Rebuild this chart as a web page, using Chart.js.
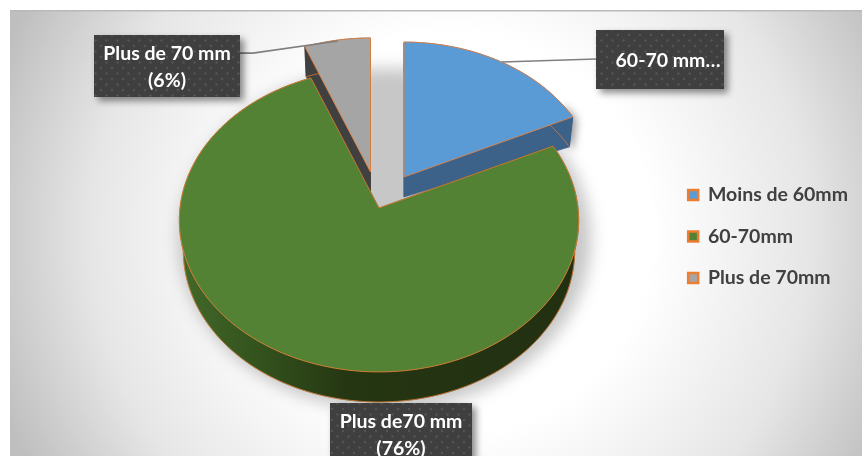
<!DOCTYPE html>
<html>
<head>
<meta charset="utf-8">
<script src="https://cdn.jsdelivr.net/npm/chart.js@4/dist/chart.umd.js"></script>
<style>
  html, body { margin: 0; padding: 0; background: #fff; }
  #wrap { width: 862px; height: 456px; overflow: hidden; }
</style>
</head>
<body>
<div id="wrap"><canvas id="pie" width="862" height="456"></canvas></div>
<script>
// chart data
const sliceLabels = ['Moins de 60mm', '60-70mm', 'Plus de 70mm'];
const sliceValues = [18, 76, 6];
const calloutTexts = [['60-70 mm…'], ['Plus de70 mm', '(76%)'], ['Plus de 70 mm', '(6%)']];

// look of each slice
const topColors = ['#5b9bd5', '#548235', '#a5a5a5'];
const edgeColor = '#ed7d31';

// how each slice sits on the tilted disc: apex position and half axes
const sliceViews = [
    { x: 404, y: 177, rx: 193, ry: 146 },
    { x: 379, y: 208, rx: 199, ry: 150.5 },
    { x: 370.5, y: 172, rx: 192, ry: 145 }
];
const PERSPECTIVE = 0.082;

// callout boxes, with the leader line back to the slice
const calloutBoxes = [
    { x: 596, y: 30, w: 128, h: 59, textX: 668, lineY: [61], line: [[596, 59], [502, 62]] },
    { x: 330, y: 403, w: 142, h: 62, textX: 401, lineY: [422, 449], line: null },
    { x: 94, y: 35, w: 146, h: 62, textX: 167, lineY: [54, 81], line: [[240, 53], [253, 53], [338, 41]] }
];

// project a point of the unit disc to the screen, r = 1 is the rim
function project(view, r, angle, lowered) {
    const u = r * Math.cos(angle), v = r * Math.sin(angle);
    const w = 1 - PERSPECTIVE * v;
    const shrink = lowered ? 1 - 0.02 * r : 1;
    const drop = lowered ? 20 + 10 * r : 0;
    return { x: view.x + view.rx * u * shrink / w, y: view.y + view.ry * v / w + drop };
}

function rimPoints(view, arc, lowered) {
    const pts = [];
    const steps = Math.max(8, Math.round((arc.endAngle - arc.startAngle) * 40));
    for (let i = 0; i <= steps; i++) {
        const a = arc.startAngle + (arc.endAngle - arc.startAngle) * i / steps;
        pts.push(project(view, 1, a, lowered));
    }
    return pts;
}

function tracePoly(ctx, pts) {
    ctx.beginPath();
    pts.forEach((p, i) => i ? ctx.lineTo(p.x, p.y) : ctx.moveTo(p.x, p.y));
    ctx.closePath();
}

function wallFill(ctx, index) {
    if (index === 0) return '#3c6289';
    if (index === 2) return '#404040';
    const g = ctx.createLinearGradient(180, 0, 580, 0);
    g.addColorStop(0, '#42692a');
    g.addColorStop(0.2, '#33521d');
    g.addColorStop(0.42, '#253612');
    g.addColorStop(1, '#223012');
    return g;
}

function drawWalls(ctx, arc, index) {
    const view = sliceViews[index];
    const top = rimPoints(view, arc, false);
    const low = rimPoints(view, arc, true);
    const apexTop = project(view, 0, 0, false);
    const apexLow = project(view, 0, 0, true);
    ctx.fillStyle = wallFill(ctx, index);
    ctx.strokeStyle = ctx.fillStyle;
    ctx.lineWidth = 0.6;
    // the two cut faces
    [[top[0], low[0]], [top[top.length - 1], low[low.length - 1]]].forEach(pair => {
        tracePoly(ctx, [apexTop, pair[0], pair[1], apexLow]);
        ctx.fill();
        ctx.stroke();
    });
    // the curved face
    tracePoly(ctx, top.concat(low.slice().reverse()));
    ctx.fill();
    ctx.stroke();
    // thin edge along the underside
    ctx.strokeStyle = edgeColor;
    ctx.lineWidth = 0.7;
    ctx.beginPath();
    low.forEach((p, i) => i ? ctx.lineTo(p.x, p.y) : ctx.moveTo(p.x, p.y));
    ctx.stroke();
}

function drawTop(ctx, arc, index) {
    const view = sliceViews[index];
    tracePoly(ctx, [project(view, 0, 0, false)].concat(rimPoints(view, arc, false)));
    ctx.fillStyle = topColors[index];
    ctx.fill();
    ctx.strokeStyle = edgeColor;
    ctx.lineWidth = 0.8;
    ctx.stroke();
}

function dotPattern(ctx) {
    const tile = document.createElement('canvas');
    tile.width = tile.height = 11;
    const t = tile.getContext('2d');
    t.fillStyle = '#3f3f3f';
    t.fillRect(0, 0, 11, 11);
    t.fillStyle = '#555555';
    [[2, 2], [7.5, 7.5]].forEach(d => {
        t.beginPath();
        t.arc(d[0], d[1], 1.2, 0, Math.PI * 2);
        t.fill();
    });
    return ctx.createPattern(tile, 'repeat');
}

// plate behind the chart
const platePlugin = {
    id: 'plate',
    beforeDraw(chart) {
        const ctx = chart.ctx;
        ctx.save();
        ctx.fillStyle = '#fff';
        ctx.fillRect(0, 0, 862, 456);
        const g = ctx.createRadialGradient(450, 233, 0, 450, 233, 480);
        g.addColorStop(0, '#ffffff');
        g.addColorStop(0.42, '#ffffff');
        g.addColorStop(0.75, '#e6e6e6');
        g.addColorStop(1, '#bfbfbf');
        ctx.fillStyle = g;
        ctx.fillRect(10, 10, 852, 446);
        ctx.fillStyle = '#b9b9b9';
        ctx.fillRect(10, 10, 852, 1.5);
        ctx.restore();
    }
};

// the slices are drawn tilted, from the angles the pie controller worked out
const tiltedPiePlugin = {
    id: 'tiltedPie',
    beforeDatasetDraw(chart, args) {
        const ctx = chart.ctx;
        const arcs = args.meta.data;
        ctx.save();

        // soft shadow under the whole disc
        ctx.save();
        ctx.filter = 'blur(8px)';
        ctx.fillStyle = 'rgba(0,0,0,0.22)';
        ctx.beginPath();
        ctx.ellipse(385, 239, 206, 171, 0, 0, Math.PI * 2);
        ctx.fill();
        ctx.restore();

        // back slices first, the big one covers their walls
        ctx.save();
        ctx.shadowColor = 'rgba(0,0,0,0.4)';
        ctx.shadowBlur = 9;
        ctx.shadowOffsetX = 4;
        ctx.shadowOffsetY = 3;
        ctx.fillStyle = '#3c6289';
        tracePoly(ctx, rimPoints(sliceViews[0], arcs[0], true).slice(-6).concat(rimPoints(sliceViews[0], arcs[0], false).slice(-6).reverse()));
        ctx.fill();
        ctx.restore();

        [2, 0, 1].forEach(i => {
            drawWalls(ctx, arcs[i], i);
            drawTop(ctx, arcs[i], i);
        });
        ctx.restore();
        return false;
    }
};

const calloutPlugin = {
    id: 'callouts',
    afterDraw(chart) {
        const ctx = chart.ctx;
        const pattern = dotPattern(ctx);
        ctx.save();
        calloutBoxes.forEach((box, i) => {
            if (box.line) {
                ctx.strokeStyle = '#7f7f7f';
                ctx.lineWidth = 1.75;
                ctx.beginPath();
                box.line.forEach((p, k) => k ? ctx.lineTo(p[0], p[1]) : ctx.moveTo(p[0], p[1]));
                ctx.stroke();
            }
            ctx.save();
            ctx.shadowColor = 'rgba(0,0,0,0.45)';
            ctx.shadowBlur = 7;
            ctx.shadowOffsetX = 4;
            ctx.shadowOffsetY = 4;
            ctx.fillStyle = pattern;
            ctx.fillRect(box.x, box.y, box.w, box.h);
            ctx.restore();
            ctx.fillStyle = '#ffffff';
            ctx.font = 'bold 19.5px Lato';
            ctx.textAlign = 'center';
            ctx.textBaseline = 'middle';
            calloutTexts[i].forEach((line, k) => ctx.fillText(line, box.textX, box.lineY[k]));
        });
        ctx.restore();
    }
};

new Chart(document.getElementById('pie'), {
    type: 'pie',
    data: {
        labels: sliceLabels,
        datasets: [{
            data: sliceValues,
            backgroundColor: topColors,
            borderColor: edgeColor,
            borderWidth: 2.5
        }]
    },
    options: {
        responsive: false,
        animation: false,
        rotation: 0,
        layout: { padding: { right: 4, top: 17 } },
        plugins: {
            tooltip: { enabled: false },
            legend: {
                position: 'right',
                labels: {
                    boxWidth: 10,
                    boxHeight: 10,
                    padding: 22,
                    color: '#404040',
                    font: { family: 'Lato', size: 19.5, weight: 'bold' }
                }
            }
        }
    },
    plugins: [platePlugin, tiltedPiePlugin, calloutPlugin]
});
</script>
</body>
</html>
